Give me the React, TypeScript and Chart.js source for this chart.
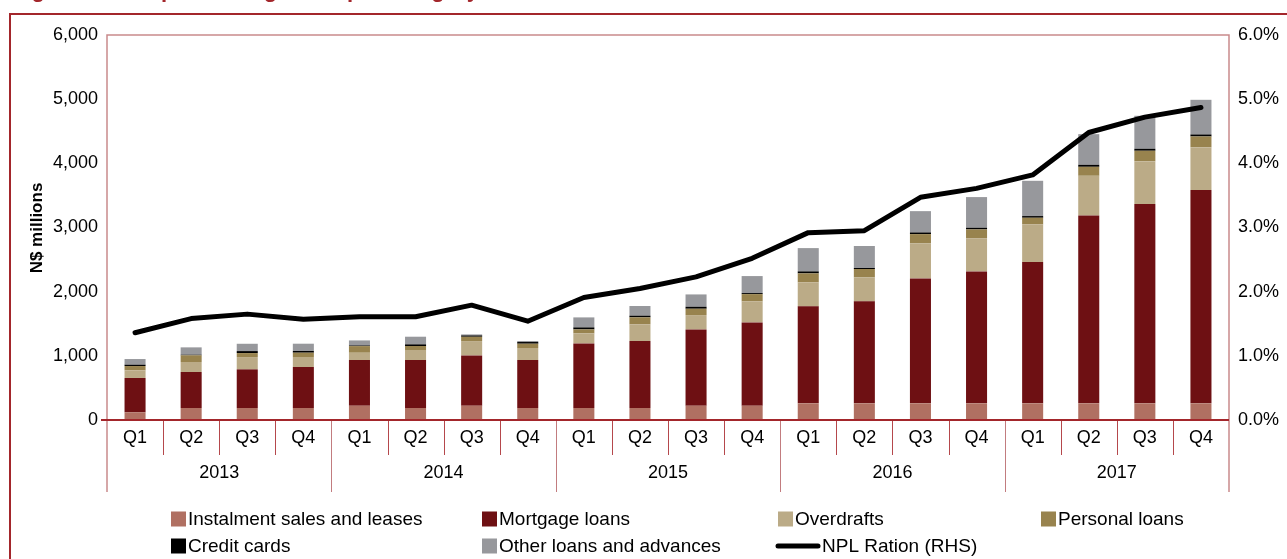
import { useEffect, useRef } from 'react';
import Chart from 'chart.js/auto';

const quarters = ['Q1','Q2','Q3','Q4','Q1','Q2','Q3','Q4','Q1','Q2','Q3','Q4','Q1','Q2','Q3','Q4','Q1','Q2','Q3','Q4'];
const years = ['2013','2014','2015','2016','2017'];

const instalment = [120,187,187,187,223,187,223,187,187,187,223,223,260,260,260,260,260,260,260,260];
const mortgage = [535,561,602,639,711,748,784,748,1007,1044,1189,1298,1511,1589,1947,2056,2201,2928,3105,3323];
const overdrafts = [119,156,192,156,114,156,223,187,156,260,223,327,374,374,545,514,587,618,665,665];
const personal = [67,104,62,67,104,62,67,67,62,109,99,114,140,130,145,140,104,140,166,171];
const creditCards = [21,10,31,26,10,26,21,26,31,26,31,16,31,16,26,26,26,31,31,31];
const otherLoans = [88,114,114,114,78,119,16,16,156,151,192,265,363,343,332,478,550,478,514,540];
const nplRatio = [1.36,1.58,1.65,1.57,1.61,1.61,1.79,1.54,1.91,2.05,2.23,2.52,2.92,2.95,3.47,3.61,3.82,4.48,4.72,4.87];

const leftTicks = ['0','1,000','2,000','3,000','4,000','5,000','6,000'];
const rightTicks = ['0.0%','1.0%','2.0%','3.0%','4.0%','5.0%','6.0%'];

const FONT = "'Liberation Sans', Arial, sans-serif";

const COLORS = {
  instalment: '#b07062',
  mortgage: '#6e1013',
  overdrafts: '#bbab87',
  personal: '#98834e',
  credit: '#000000',
  other: '#97989c',
};

const legendItems = [
  { label: 'Instalment sales and leases', color: COLORS.instalment, x: 171, row: 0, kind: 'box' },
  { label: 'Mortgage loans', color: COLORS.mortgage, x: 482, row: 0, kind: 'box' },
  { label: 'Overdrafts', color: COLORS.overdrafts, x: 778, row: 0, kind: 'box' },
  { label: 'Personal loans', color: COLORS.personal, x: 1041, row: 0, kind: 'box' },
  { label: 'Credit cards', color: COLORS.credit, x: 171, row: 1, kind: 'box' },
  { label: 'Other loans and advances', color: COLORS.other, x: 482, row: 1, kind: 'box' },
  { label: 'NPL Ration (RHS)', color: '#000000', x: 776, row: 1, kind: 'line' },
];

const customDraw = {
  id: 'customDraw',
  afterDraw(chart: any) {
    const ctx = chart.ctx as CanvasRenderingContext2D;
    const area = chart.chartArea;
    const n = quarters.length;
    const w = (area.right - area.left) / n;
    ctx.save();

    // title (cropped above the frame; only descenders show)
    ctx.fillStyle = '#a3262b';
    ctx.font = `bold 22px ${FONT}`;
    ctx.textAlign = 'left';
    ctx.textBaseline = 'alphabetic';
    ctx.fillText('Figure 8: Non-performing loans per category and NPL ratio', 12, -3);

    // plot border
    ctx.strokeStyle = '#c98a8c';
    ctx.lineWidth = 1.5;
    ctx.beginPath();
    ctx.moveTo(area.left, area.bottom + 72);
    ctx.lineTo(area.left, area.top);
    ctx.lineTo(area.right, area.top);
    ctx.lineTo(area.right, area.bottom + 72);
    ctx.stroke();

    // dividers
    for (let k = 1; k < n; k++) {
      const x = Math.round(area.left + k * w) + 0.5;
      const isYear = k % 4 === 0;
      ctx.strokeStyle = isYear ? '#c27c7f' : '#b5484c';
      ctx.lineWidth = 1;
      ctx.beginPath();
      ctx.moveTo(x, area.bottom);
      ctx.lineTo(x, area.bottom + (isYear ? 72 : 35));
      ctx.stroke();
    }

    // x axis line
    ctx.strokeStyle = '#a3262b';
    ctx.lineWidth = 2;
    ctx.beginPath();
    ctx.moveTo(area.left - 6, area.bottom);
    ctx.lineTo(area.right, area.bottom);
    ctx.stroke();

    // category labels
    ctx.fillStyle = '#000';
    ctx.font = `18px ${FONT}`;
    ctx.textAlign = 'center';
    ctx.textBaseline = 'middle';
    const xs = chart.scales.x;
    quarters.forEach((q, i) => {
      ctx.fillText(q, xs.getPixelForValue(i), area.bottom + 18);
    });
    years.forEach((y, j) => {
      ctx.fillText(y, area.left + (4 * j + 2) * w, area.bottom + 53);
    });

    // y-axis title
    ctx.save();
    ctx.translate(37, 228);
    ctx.rotate(-Math.PI / 2);
    ctx.font = `bold 17px ${FONT}`;
    ctx.fillText('N$ millions', 0, 0);
    ctx.restore();

    // legend
    ctx.font = `19px ${FONT}`;
    ctx.textAlign = 'left';
    legendItems.forEach((it) => {
      const cy = it.row === 0 ? 519 : 546;
      if (it.kind === 'box') {
        ctx.fillStyle = it.color;
        ctx.fillRect(it.x, cy - 7.5, 15, 15);
        ctx.fillStyle = '#000';
        ctx.fillText(it.label, it.x + 17, cy + 1);
      } else {
        ctx.strokeStyle = it.color;
        ctx.lineWidth = 5;
        ctx.lineCap = 'round';
        ctx.beginPath();
        ctx.moveTo(it.x + 2, cy);
        ctx.lineTo(it.x + 42, cy);
        ctx.stroke();
        ctx.fillStyle = '#000';
        ctx.fillText(it.label, it.x + 46, cy + 1);
      }
    });
    ctx.restore();
  },
};

export default function App() {
  const ref = useRef<HTMLCanvasElement>(null);
  useEffect(() => {
    const barCommon = { type: 'bar' as const, order: 1, barPercentage: 0.375, categoryPercentage: 1, yAxisID: 'y', borderWidth: 0 };
    const chart = new Chart(ref.current!, {
      type: 'bar',
      data: {
        labels: quarters,
        datasets: [
          { ...barCommon, label: 'Instalment sales and leases', data: instalment, backgroundColor: COLORS.instalment },
          { ...barCommon, label: 'Mortgage loans', data: mortgage, backgroundColor: COLORS.mortgage },
          { ...barCommon, label: 'Overdrafts', data: overdrafts, backgroundColor: COLORS.overdrafts },
          { ...barCommon, label: 'Personal loans', data: personal, backgroundColor: COLORS.personal },
          { ...barCommon, label: 'Credit cards', data: creditCards, backgroundColor: COLORS.credit },
          { ...barCommon, label: 'Other loans and advances', data: otherLoans, backgroundColor: COLORS.other },
          {
            type: 'line', label: 'NPL Ration (RHS)', data: nplRatio, yAxisID: 'y1', order: 0,
            borderColor: '#000', backgroundColor: '#000', borderWidth: 5, pointRadius: 0,
            tension: 0, borderCapStyle: 'round', borderJoinStyle: 'round', fill: false,
          } as any,
        ],
      },
      options: {
        responsive: false,
        animation: false,
        layout: { padding: { left: 0, right: 0, top: 35, bottom: 139 } },
        plugins: { legend: { display: false }, tooltip: { enabled: false } },
        scales: {
          x: { display: false, stacked: true },
          y: {
            position: 'left', stacked: true, min: 0, max: 6000,
            afterFit: (s: any) => { s.width = 107; },
            grid: { display: false, drawTicks: false },
            border: { display: false },
            ticks: {
              stepSize: 1000, padding: 9, color: '#000',
              font: { family: FONT, size: 18 },
              callback: (_v: any, i: number) => leftTicks[i],
            },
          },
          y1: {
            position: 'right', min: 0, max: 6,
            afterFit: (s: any) => { s.width = 58; },
            grid: { display: false, drawTicks: false },
            border: { display: false },
            ticks: {
              stepSize: 1, padding: 9, color: '#000',
              font: { family: FONT, size: 18 },
              callback: (_v: any, i: number) => rightTicks[i],
            },
          },
        },
      },
      plugins: [customDraw],
    });
    return () => chart.destroy();
  }, []);

  return (
    <div style={{ position: 'fixed', left: 0, top: 0, width: 1287, height: 559, overflow: 'hidden', background: '#fff' }}>
      <div style={{ position: 'absolute', left: 9, top: 13, width: 1400, height: 700, borderLeft: '2px solid #a3262b', borderTop: '2px solid #a3262b' }} />
      <canvas ref={ref} width={1287} height={559} style={{ position: 'absolute', left: 0, top: 0 }} />
    </div>
  );
}
